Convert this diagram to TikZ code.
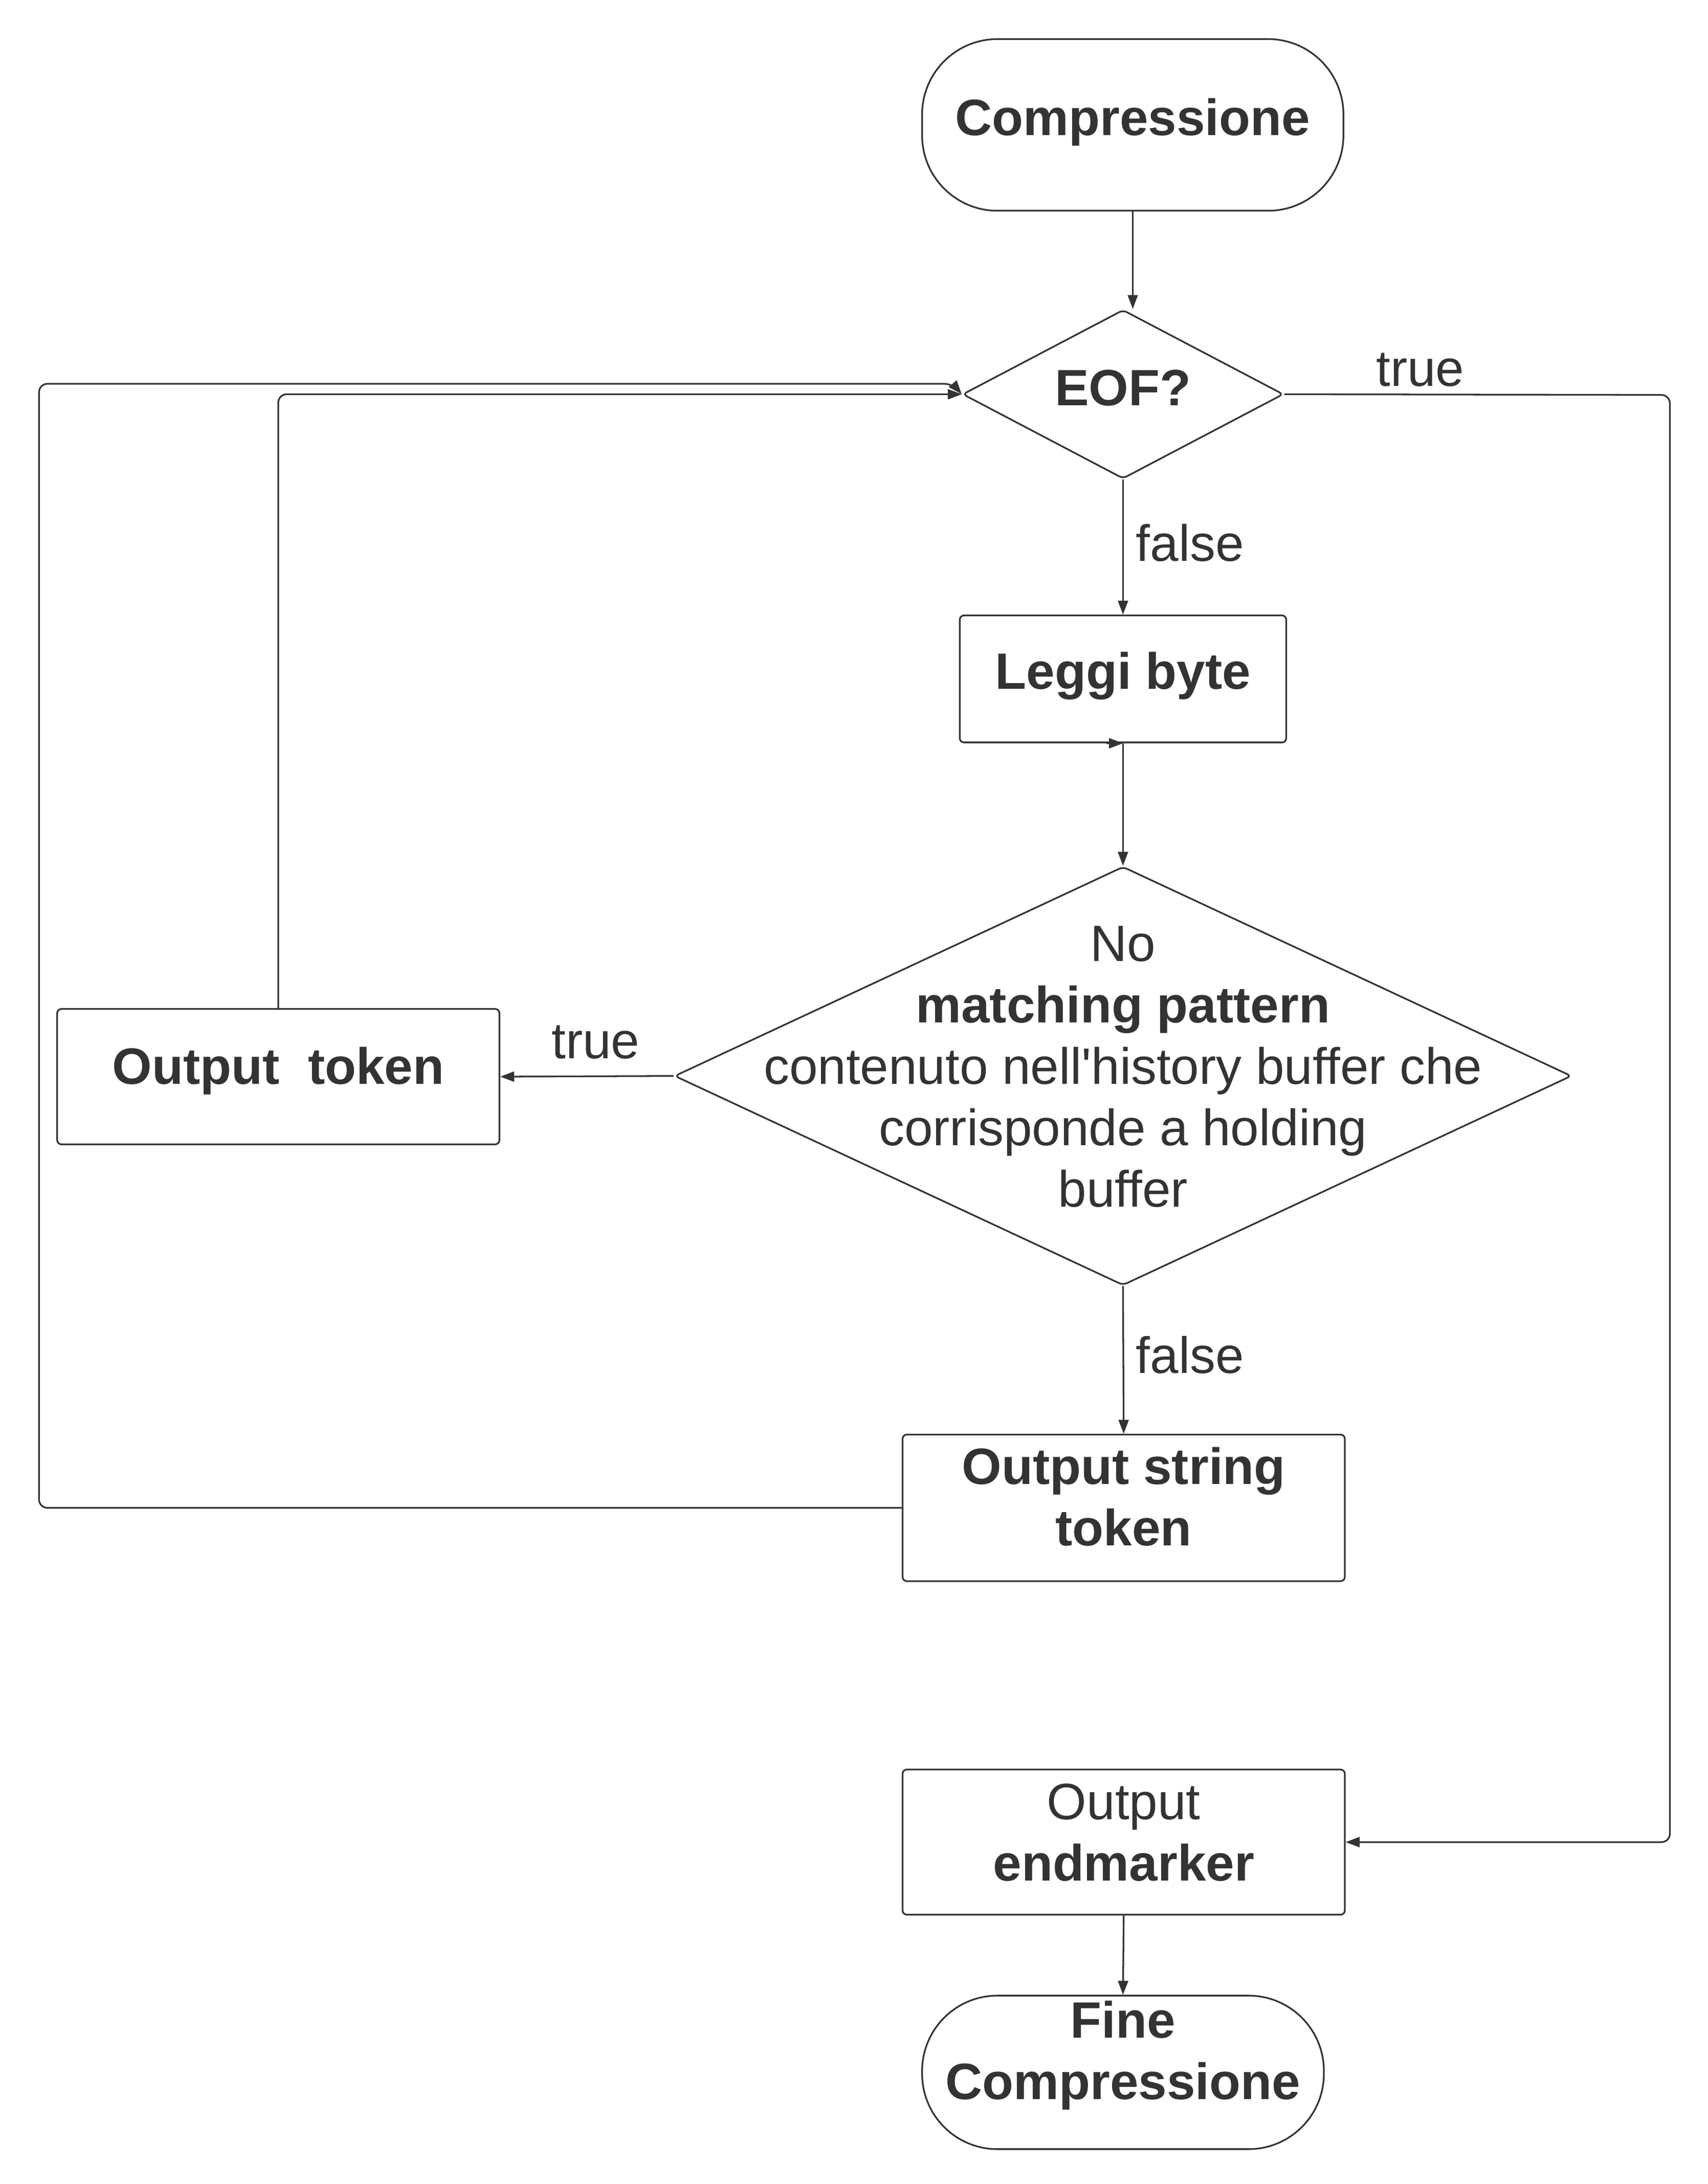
\documentclass[tikz,border=0pt]{standalone}
\usepackage{fontspec}
\setmainfont{Liberation Sans}
\newfontfamily\plainapos{Liberation Sans}
\usetikzlibrary{shapes.geometric,arrows.meta}
\definecolor{ink}{HTML}{333333}
\begin{document}
\begin{tikzpicture}[x=0.5pt,y=-0.5pt,
  every node/.style={font=\fontsize{18.3}{22}\selectfont, text=ink},
  box/.style 2 args={rectangle, draw=ink, line width=0.6pt, rounded corners=1.5pt, inner sep=0pt, minimum width=#1, minimum height=#2},
  term/.style 2 args={rectangle, draw=ink, line width=0.6pt, rounded corners=27pt, inner sep=0pt, minimum width=#1, minimum height=#2},
  dia/.style 2 args={shape=diamond, draw=ink, line width=0.6pt, rounded corners=1.5pt, inner sep=0pt, minimum width=#1, minimum height=#2},
  txt/.style={align=center, inner sep=0pt},
  conn/.style={draw=ink, line width=0.6pt, -{Triangle[length=5pt,width=3.6pt]}},
  lbl/.style={inner sep=0pt}
]
\useasboundingbox (0,0) rectangle (1224,1565);
\fill[white] (0,0) rectangle (1224,1565);

% shapes
\node[term={151pt}{61.5pt}] (start) at (812,89.5) {};
\node[dia={115pt}{60.5pt}] (eof) at (805,282.5) {};
\node[box={117pt}{45.5pt}] (leggi) at (805,486.5) {};
\node[dia={321.5pt}{150pt}] (match) at (805,771) {};
\node[box={158.5pt}{48.5pt}] (otok) at (199.5,771.5) {};
\node[box={158.5pt}{52.5pt}] (ostr) at (805.5,1080.5) {};
\node[box={158.5pt}{52pt}] (oend) at (805.5,1320) {};
\node[term={144pt}{55pt}] (fine) at (805,1485) {};

% texts
\node[txt] (startt) at ([yshift=1pt]start.center) {\textbf{Compressione}};
\node[txt] (eoft) at (805,278) {\textbf{EOF?}};
\node[txt] (leggit) at ([yshift=1pt]leggi.center) {\textbf{Leggi byte}};
\node[txt] (matcht) at (805,764.5) {No\\\textbf{matching pattern}\\contenuto nell{\plainapos'}history buffer che\\corrisponde a holding\\buffer};
\node[txt] (otokt) at ([yshift=2pt]otok.center) {\textbf{Output~\ token}};
\node[txt] (ostrt) at ([yshift=4pt]ostr.center) {\textbf{Output string}\\\textbf{token}};
\node[txt] (oendt) at ([yshift=3.5pt]oend.center) {Output\\\textbf{endmarker}};
\node[txt] (finet) at ([yshift=6pt]fine.center) {\textbf{Fine}\\\textbf{Compressione}};

% labels
\node[lbl] (ltrue1) at (1018,265) {true};
\node[lbl] (lfalse1) at (853,389) {false};
\node[lbl] (ltrue2) at (427,747) {true};
\node[lbl] (lfalse2) at (853,971) {false};

% coordinates
\coordinate (rtop) at (1197,283);
\coordinate (ltop) at (28,275);
\coordinate (ltopend) at (683,275);

% connectors
\draw[conn] (start.south) -- (start.south |- eof.north);
\draw[conn] (eof.south) -- (leggi.north);
\draw[conn] ([xshift=-6pt]leggi.south) -- (leggi.south);
\draw[conn] (leggi.south) -- (match.north);
\draw[conn] (match.west) -- (otok.east);
\draw[conn] (match.south) -- (ostr.north);
\draw[conn, rounded corners=3pt] (otok.north) |- (eof.west);
\draw[conn, rounded corners=3pt] (ostr.west) -| (ltop) -- (ltopend) -- (eof.west);
\draw[conn, rounded corners=3pt] (eof.east) -- (rtop) |- (oend.east);
\draw[conn] (oend.south) -- (fine.north);
\end{tikzpicture}
\end{document}
